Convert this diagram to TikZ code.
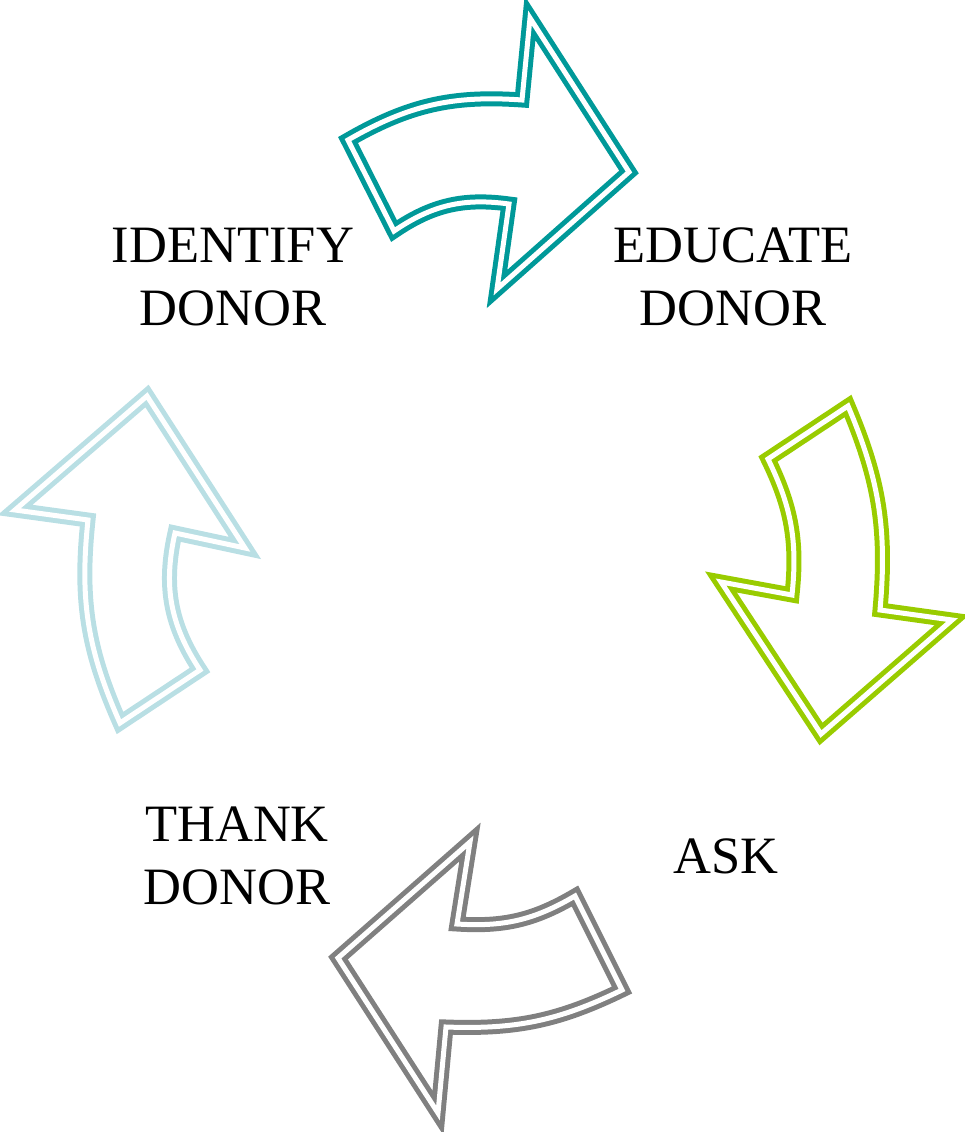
\documentclass[tikz,border=0pt]{standalone}
\usepackage{fontspec}
\setmainfont{Liberation Serif}
\definecolor{cycteal}{RGB}{0,153,153}
\definecolor{cycgreen}{RGB}{153,204,0}
\definecolor{cycgray}{RGB}{128,128,128}
\definecolor{cycblue}{RGB}{185,223,228}
\begin{document}
\begin{tikzpicture}[x=1pt,y=-1pt,
  cyclearrow/.style={draw=#1, line width=5pt, double=white, double distance=5pt, line join=miter},
  steplabel/.style={anchor=base, inner sep=0pt, font=\fontsize{52.5}{63}\selectfont}]
\useasboundingbox (0,0) rectangle (965,1132);

% step labels
\node[steplabel] (identify) at (233,262) {\begin{tabular}[t]{@{}c@{}}IDENTIFY\\DONOR\end{tabular}};
\node[steplabel] (educate)  at (733,262) {\begin{tabular}[t]{@{}c@{}}EDUCATE\\DONOR\end{tabular}};
\node[steplabel] (ask)      at (726,873) {ASK};
\node[steplabel] (thank)    at (237,841) {\begin{tabular}[t]{@{}c@{}}THANK\\DONOR\end{tabular}};

% identify -> educate
\draw[cyclearrow=cycteal] (348,140) to[bend left=17] (522,100) -- (530,18) -- (629,172)
  -- (497,289) -- (509,204) to[bend right=21] (394,231) -- cycle;

% educate -> ask
\draw[cyclearrow=cycgreen] (848,406) -- (768,459) to[bend left=16] (792,595) -- (721,582)
  -- (821,734) -- (952,620) -- (880,610) to[bend right=14] cycle;

% ask -> thank
\draw[cyclearrow=cycgray] (575,896) -- (622,990) to[bend left=14] (446,1027) -- (438,1113)
  -- (338,958) -- (470,842) -- (457,924) to[bend right=17] cycle;

% thank -> identify
\draw[cyclearrow=cycblue] (147,396) -- (245,548) -- (175,533) to[bend right=23] (200,670)
  -- (120,723) to[bend left=15] (88,520) -- (15,510) -- cycle;
\end{tikzpicture}
\end{document}
